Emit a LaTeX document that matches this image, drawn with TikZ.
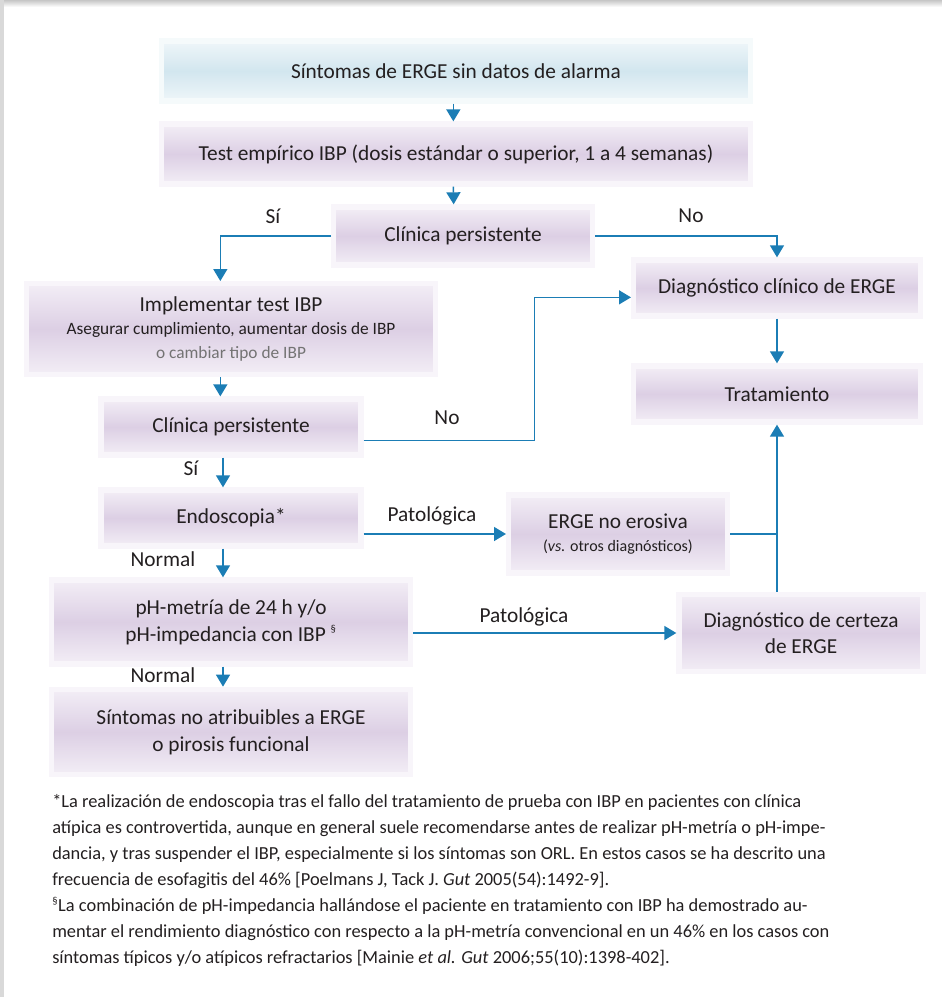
\documentclass[tikz,border=0pt]{standalone}
\usepackage{fontspec}
\setmainfont{Carlito}
\usetikzlibrary{arrows.meta}
\definecolor{flecha}{HTML}{1B7DB5}
\definecolor{lilamed}{HTML}{DCCFE4}
\definecolor{lilaclaro}{HTML}{F3EEF6}
\definecolor{azulmed}{HTML}{D2E6EF}
\definecolor{azulclaro}{HTML}{EFF6F9}
\definecolor{tinta}{HTML}{231F20}
\tikzset{
  caja/.style 2 args={minimum width=#1, minimum height=#2, align=center,
    top color=lilaclaro, bottom color=lilaclaro, middle color=lilamed,
    draw=lilaclaro!60, line width=4pt},
  cajaazul/.style 2 args={caja={#1}{#2},
    top color=azulclaro, bottom color=azulclaro, middle color=azulmed,
    draw=azulclaro!60},
  etiq/.style={inner sep=1pt}
}
\begin{document}
\begin{tikzpicture}[x=0.75pt, y=-0.75pt, text=tinta, font=\fontsize{16}{20}\selectfont]
      \fill[white] (0,0) rectangle (942,997);
      \shade[top color=gray!45, bottom color=white] (0,0) rectangle (942,7);
      \fill[gray!30] (0,0) rectangle (4,997);
      \useasboundingbox (0,0) rectangle (942,997);
      \draw
        (456,71) node[cajaazul={442pt}{45pt}] (sint){Síntomas de ERGE sin datos de alarma}
        (456,154) node[caja={442pt}{45pt}] (test){Test empírico IBP (dosis estándar o superior, 1 a 4 semanas)}
        (463,236) node[caja={194pt}{43.5pt}] (clin1){Clínica persistente}
        (777,288) node[caja={215pt}{42pt}] (diag){Diagnóstico clínico de ERGE}
        (231,329) node[caja={307pt}{68pt}] (impl){Implementar test IBP\\[-3pt]
          {\fontsize{13}{17}\selectfont Asegurar cumplimiento, aumentar dosis de IBP}\\[-2pt]
          {\fontsize{13}{17}\selectfont\color{gray!90!black} o cambiar tipo de IBP}}
        (777,394) node[caja={215pt}{42pt}] (trat){Tratamiento}
        (231,427) node[caja={195pt}{42pt}] (clin2){Clínica persistente}
        (231,518) node[caja={195pt}{42pt}] (endo){Endoscopia*}
        (618,534) node[caja={164pt}{58.5pt}] (noeros){ERGE no erosiva\\[-3pt]
          {\fontsize{12}{15}\selectfont(\textit{vs.} otros diagnósticos)}}
        (231,622) node[caja={269pt}{63pt}] (phm){pH-metría de 24 h y/o\\
          pH-impedancia con IBP \textsuperscript{\fontsize{8}{8}\selectfont§}}
        (801,633) node[caja={183pt}{58pt}] (cert){Diagnóstico de certeza\\de ERGE}
        (231,732) node[caja={269pt}{64pt}] (nofun){Síntomas no atribuibles a ERGE\\o pirosis funcional};
      \draw
        (273,216) node[etiq] (si1){Sí}
        (691,216) node[etiq] (no1){No}
        (447,418) node[etiq] (no2){No}
        (191,468) node[etiq] (si2){Sí}
        (432,516) node[etiq] (pat1){Patológica}
        (163,559) node[etiq] (nor1){Normal}
        (524,617) node[etiq] (pat2){Patológica}
        (163,675) node[etiq] (nor2){Normal};
      \draw (52,794) node[anchor=north west, align=left, inner sep=0pt,
          font=\fontsize{13.8}{19.5}\selectfont] (nota){%
        *La realización de endoscopia tras el fallo del tratamiento de prueba con IBP en pacientes con clínica\\
        atípica es controvertida, aunque en general suele recomendarse antes de realizar pH-metría o pH-impe-\\
        dancia, y tras suspender el IBP, especialmente si los síntomas son ORL. En estos casos se ha descrito una\\
        frecuencia de esofagitis del 46\% [Poelmans J, Tack J. \textit{Gut} 2005(54):1492-9].\\
        \textsuperscript{\fontsize{8}{8}\selectfont§}La combinación de pH-impedancia hallándose el paciente en tratamiento con IBP ha demostrado au-\\
        mentar el rendimiento diagnóstico con respecto a la pH-metría convencional en un 46\% en los casos con\\
        síntomas típicos y/o atípicos refractarios [Mainie \textit{et al.} \textit{Gut} 2006;55(10):1398-402].};
      \begin{scope}[flecha, line width=1.1pt, -{Triangle[width=10.5pt,length=9pt]}]
        \draw ([xshift=-2pt]sint.south) to ([xshift=-2pt]test.north);
        \draw ([xshift=-2pt]test.south) to ([xshift=-7pt]clin1.north);
        \draw (clin1.west) -| ([xshift=-8pt]impl.north);
        \draw (clin1.east) -| (diag.north);
        \draw ([xshift=-8pt]impl.south) to ([xshift=-8pt]clin2.north);
        \draw ([yshift=-10pt]clin2.east) -- ++(171,0) |- ([yshift=-7pt]diag.west);
        \draw (diag.south) to (trat.north);
        \draw ([xshift=-6pt]clin2.south) to ([xshift=-6pt]endo.north);
        \draw (endo.east |- noeros.west) to (noeros.west);
        \draw[-] (noeros.east) to (noeros.east -| trat.south);
        \draw (cert.north -| trat.south) to (trat.south);
        \draw ([xshift=-6pt]endo.south) to ([xshift=-6pt]phm.north);
        \draw (phm.east |- cert.west) to (cert.west);
        \draw ([xshift=-6pt]phm.south) to ([xshift=-6pt]nofun.north);
      \end{scope}
    \end{tikzpicture}
\end{document}
